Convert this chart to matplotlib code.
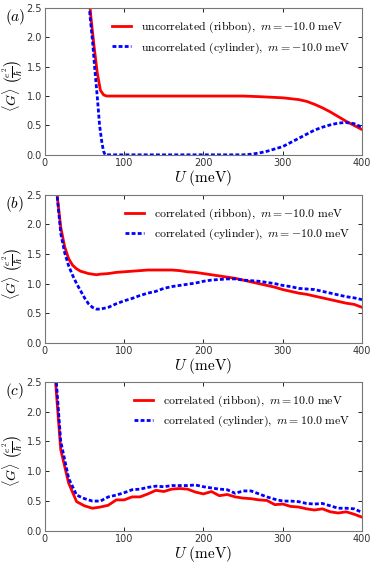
import numpy as np
import matplotlib
matplotlib.use('Agg')
import matplotlib.pyplot as plt

plt.rcParams['mathtext.fontset'] = 'cm'

# panel (a): uncorrelated, m = -10 meV
U_a_red = [50, 55, 58, 62, 66, 70, 74, 78, 90, 150, 200, 250, 270, 300, 320, 330, 340, 350, 360, 370, 380, 390, 400]
G_a_red = [3.4, 2.8, 2.35, 1.85, 1.4, 1.1, 1.02, 1.0, 1.0, 1.0, 1.0, 1.0, 0.99, 0.97, 0.94, 0.91, 0.86, 0.80, 0.73, 0.65, 0.57, 0.50, 0.43]
U_a_blue = [50, 54, 57, 60, 63, 66, 69, 72, 74, 76, 80, 150, 200, 250, 260, 270, 280, 290, 300, 310, 320, 330, 340, 350, 360, 370, 380, 390, 400]
G_a_blue = [3.6, 2.9, 2.35, 1.95, 1.45, 1.0, 0.5, 0.2, 0.06, 0.0, 0.0, 0.0, 0.0, 0.0, 0.01, 0.03, 0.06, 0.1, 0.14, 0.21, 0.28, 0.35, 0.42, 0.47, 0.51, 0.54, 0.55, 0.53, 0.47]

# panel (b): correlated, m = -10 meV
U_b = [10, 15, 20, 25, 30, 35, 40, 45, 50, 55, 60, 65, 70, 80, 90, 100, 110, 120, 130, 140, 150, 160, 170, 180, 190, 200,
       210, 220, 230, 240, 250, 260, 270, 280, 290, 300, 310, 320, 330, 340, 350, 360, 370, 380, 390, 400]
G_b_red = [3.4, 2.55, 1.95, 1.62, 1.42, 1.31, 1.25, 1.21, 1.19, 1.17, 1.16, 1.15, 1.16, 1.17, 1.19, 1.2, 1.21, 1.22, 1.23, 1.23, 1.23, 1.23, 1.22, 1.2, 1.19, 1.17,
           1.15, 1.13, 1.11, 1.09, 1.06, 1.03, 1.0, 0.97, 0.94, 0.9, 0.87, 0.84, 0.82, 0.79, 0.76, 0.73, 0.70, 0.67, 0.65, 0.60]
G_b_blue = [3.6, 2.55, 1.85, 1.52, 1.3, 1.14, 1.0, 0.88, 0.76, 0.66, 0.6, 0.57, 0.57, 0.6, 0.66, 0.71, 0.75, 0.8, 0.84, 0.87, 0.92, 0.95, 0.97, 0.99, 1.01, 1.04,
            1.06, 1.07, 1.08, 1.08, 1.06, 1.05, 1.04, 1.02, 1.0, 0.97, 0.95, 0.92, 0.91, 0.9, 0.87, 0.84, 0.81, 0.78, 0.76, 0.73]

# panel (c): correlated, m = 10 meV
U_c = [10, 20, 30, 40, 50, 60, 70, 80, 90, 100, 110, 120, 130, 140, 150, 160, 170, 180, 190, 200,
       210, 220, 230, 240, 250, 260, 270, 280, 290, 300, 310, 320, 330, 340, 350, 360, 370, 380, 390, 400]
G_c_red = [3.1, 1.36, 0.8, 0.49, 0.42, 0.38, 0.40, 0.43, 0.52, 0.52, 0.57, 0.57, 0.62, 0.68, 0.66, 0.70, 0.71, 0.70, 0.65, 0.62,
           0.66, 0.59, 0.61, 0.57, 0.55, 0.54, 0.52, 0.51, 0.44, 0.45, 0.41, 0.40, 0.37, 0.35, 0.37, 0.32, 0.30, 0.32, 0.28, 0.23]
G_c_blue = [3.3, 1.5, 0.88, 0.60, 0.54, 0.50, 0.50, 0.57, 0.60, 0.64, 0.69, 0.70, 0.73, 0.75, 0.74, 0.76, 0.76, 0.76, 0.77, 0.74,
            0.72, 0.70, 0.69, 0.63, 0.67, 0.67, 0.62, 0.57, 0.53, 0.50, 0.50, 0.49, 0.46, 0.45, 0.46, 0.42, 0.38, 0.38, 0.37, 0.31]

panels = [
    ('a', U_a_red, G_a_red, U_a_blue, G_a_blue,
     r'$\mathrm{uncorrelated\ (ribbon),}\ m=-10.0\ \mathrm{meV}$',
     r'$\mathrm{uncorrelated\ (cylinder),}\ m=-10.0\ \mathrm{meV}$'),
    ('b', U_b, G_b_red, U_b, G_b_blue,
     r'$\mathrm{correlated\ (ribbon),}\ m=-10.0\ \mathrm{meV}$',
     r'$\mathrm{correlated\ (cylinder),}\ m=-10.0\ \mathrm{meV}$'),
    ('c', U_c, G_c_red, U_c, G_c_blue,
     r'$\mathrm{correlated\ (ribbon),}\ m=10.0\ \mathrm{meV}$',
     r'$\mathrm{correlated\ (cylinder),}\ m=10.0\ \mathrm{meV}$'),
]

fig = plt.figure(figsize=(3.74, 5.63), dpi=100)
boxes = [[0.120, 0.725, 0.848, 0.261], [0.120, 0.391, 0.848, 0.263], [0.120, 0.057, 0.848, 0.265]]

for box, (tag, ur, gr, ub, gb, lr, lb) in zip(boxes, panels):
    ax = fig.add_axes(box)
    ax.plot(ur, gr, color='red', lw=2, label=lr)
    ax.plot(ub, gb, color='blue', lw=2, ls=(0, (1.4, 0.8)), label=lb)
    ax.set_xlim(0, 400)
    ax.set_ylim(0, 2.5)
    ax.set_xticks([0, 100, 200, 300, 400])
    ax.set_yticks([0, 0.5, 1.0, 1.5, 2.0, 2.5])
    ax.set_yticklabels(['0.0', '0.5', '1.0', '1.5', '2.0', '2.5'])
    ax.tick_params(direction='in', labelsize=7, length=3, width=0.6, top=True, right=True, pad=2, labelcolor='#333333')
    for s in ax.spines.values():
        s.set_color('#777777')
        s.set_linewidth(0.8)
    ax.set_xlabel(r'$U\ \mathrm{(meV)}$', fontsize=11, labelpad=0)
    ax.set_ylabel(r'$\langle G\rangle\ \left(\frac{e^2}{\hbar}\right)$', fontsize=10, labelpad=0)
    ax.yaxis.set_label_coords(-0.062, 0.47)
    ax.text(-0.095, 0.94, r'$(%s)$' % tag, transform=ax.transAxes, fontsize=11, ha='center', va='center')
    ax.legend(loc='upper right', frameon=False, fontsize=8.5, handlelength=1.6, handletextpad=0.85,
              borderaxespad=0.6, labelspacing=0.45)

fig.savefig('out.png', dpi=100)
